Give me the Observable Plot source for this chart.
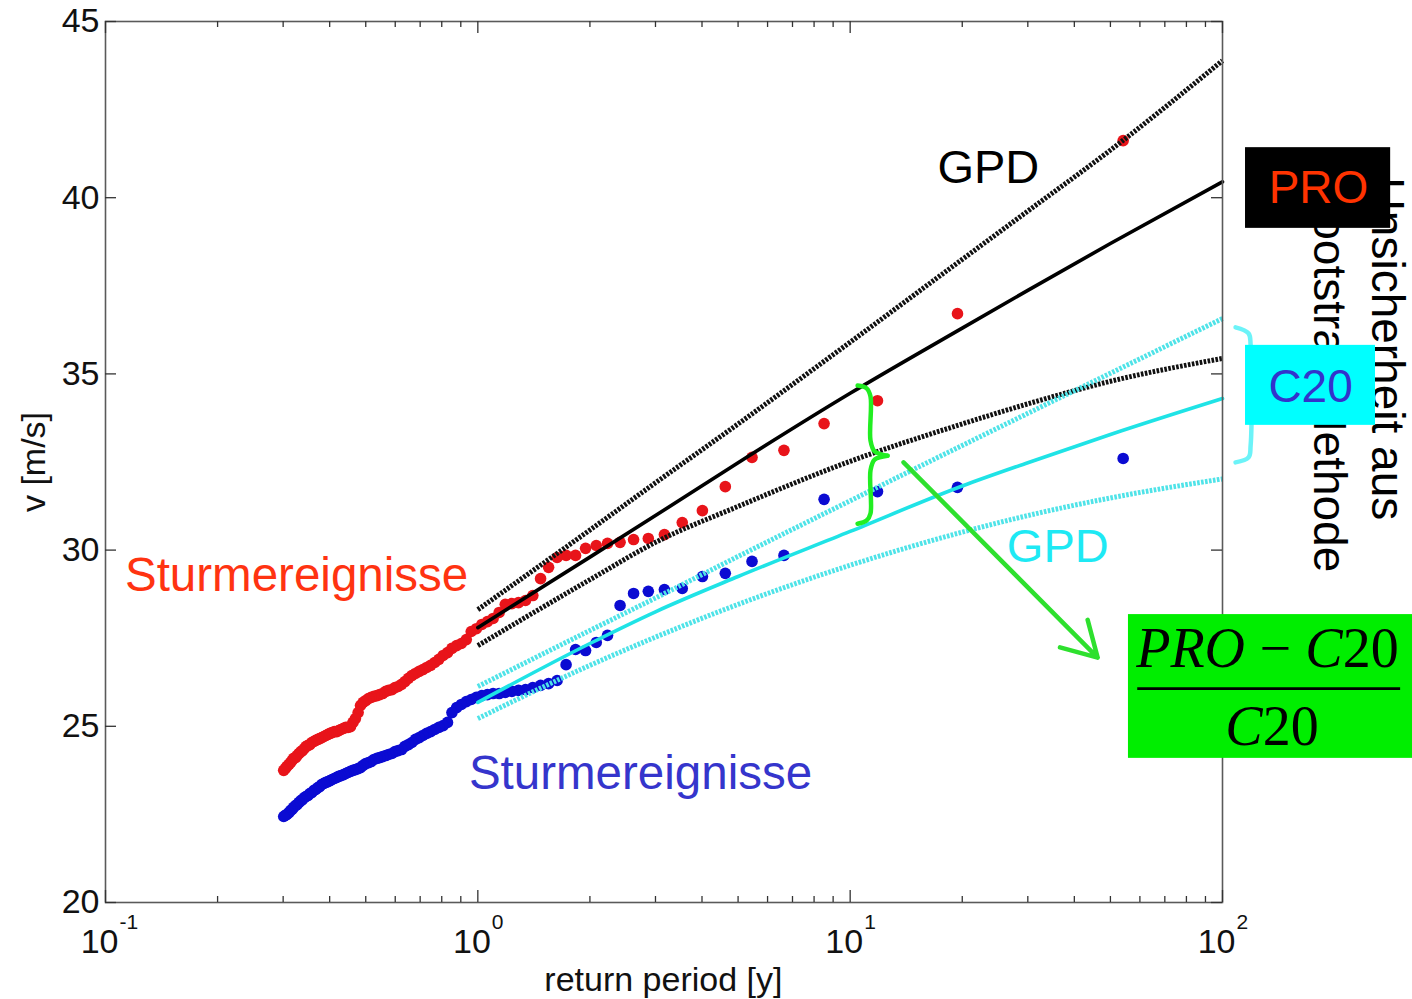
<!DOCTYPE html>
<html><head><meta charset="utf-8">
<script src="https://cdn.jsdelivr.net/npm/d3@7"></script>
<script src="https://cdn.jsdelivr.net/npm/@observablehq/plot@0.6"></script>
<style>html,body{margin:0;padding:0;background:#fff;} svg{display:block}</style>
</head><body><div id="chart"></div>
<script>
// ---- storm events: return period [y] (plotting positions) ----
const returnPeriod = [54.1, 19.42, 11.84, 8.51, 6.64, 5.45, 4.62, 4.01, 3.54, 3.17,
  2.87, 2.62, 2.41, 2.23, 2.08, 1.947, 1.830, 1.726, 1.633, 1.549,
  1.474, 1.405, 1.343, 1.286, 1.234, 1.185, 1.141, 1.099, 1.061, 1.025,
  0.991, 0.960, 0.931, 0.903, 0.877, 0.852, 0.829, 0.807, 0.786, 0.766,
  0.747, 0.729, 0.712, 0.696, 0.680, 0.665, 0.651, 0.637, 0.624, 0.611,
  0.599, 0.588, 0.576, 0.566, 0.555, 0.545, 0.536, 0.526, 0.517, 0.509,
  0.500, 0.492, 0.484, 0.477, 0.469, 0.462, 0.455, 0.448, 0.442, 0.436,
  0.429, 0.423, 0.418, 0.412, 0.406, 0.401, 0.396, 0.391, 0.386, 0.381,
  0.376, 0.372, 0.367, 0.363, 0.358, 0.354, 0.350, 0.346, 0.342, 0.338,
  0.335, 0.331, 0.327, 0.324, 0.320, 0.317, 0.314, 0.311, 0.307, 0.304,
  0.301];
// wind speed v [m/s], PRO storm events (red)
const vPRO = [41.62, 36.71, 34.24, 33.59, 32.83, 32.63, 31.80, 31.12, 30.78, 30.44,
  30.33, 30.30, 30.22, 30.19, 30.13, 30.05, 29.85, 29.85, 29.79, 29.51,
  29.19, 28.71, 28.57, 28.51, 28.48, 28.46, 28.23, 28.06, 27.97, 27.89,
  27.77, 27.69, 27.46, 27.35, 27.29, 27.21, 27.09, 27.01, 26.90, 26.81,
  26.73, 26.67, 26.61, 26.56, 26.50, 26.44, 26.36, 26.27, 26.19, 26.13,
  26.10, 26.04, 26.02, 25.99, 25.93, 25.90, 25.87, 25.85, 25.82, 25.79,
  25.73, 25.68, 25.59, 25.39, 25.22, 25.11, 24.99, 24.97, 24.97, 24.94,
  24.91, 24.88, 24.85, 24.85, 24.82, 24.80, 24.77, 24.74, 24.71, 24.68,
  24.65, 24.63, 24.60, 24.57, 24.54, 24.48, 24.46, 24.43, 24.37, 24.31,
  24.28, 24.23, 24.17, 24.11, 24.09, 24.03, 23.97, 23.92, 23.86, 23.80, 23.75];
// wind speed v [m/s], C20 storm events (blue)
const vC20 = [32.60, 31.78, 31.66, 31.44, 29.85, 29.68, 29.34, 29.25, 28.91, 28.88,
  28.83, 28.77, 28.43, 27.58, 27.38, 27.15, 27.18, 26.75, 26.30, 26.21,
  26.16, 26.10, 26.04, 26.02, 25.99, 25.96, 25.93, 25.93, 25.90, 25.87,
  25.82, 25.76, 25.70, 25.62, 25.53, 25.39, 25.11, 25.02, 24.97, 24.91,
  24.85, 24.80, 24.74, 24.68, 24.63, 24.54, 24.48, 24.43, 24.34, 24.31,
  24.28, 24.23, 24.20, 24.17, 24.14, 24.11, 24.09, 24.06, 24.00, 23.97,
  23.94, 23.89, 23.83, 23.80, 23.77, 23.75, 23.72, 23.69, 23.66, 23.63,
  23.60, 23.58, 23.55, 23.52, 23.49, 23.46, 23.43, 23.41, 23.38, 23.35,
  23.29, 23.26, 23.21, 23.18, 23.12, 23.09, 23.04, 23.01, 22.98, 22.92,
  22.89, 22.84, 22.78, 22.75, 22.70, 22.64, 22.61, 22.55, 22.50, 22.47, 22.44];

// ---- GPD fits with bootstrap uncertainty ----
const fitT     = [1, 2, 3, 5, 10, 20, 30, 50, 100];
const gpdPRO   = [27.80, 29.80, 30.98, 32.48, 34.45, 36.30, 37.37, 38.70, 40.45];
const gpdPROhi = [28.31, 30.57, 31.91, 33.58, 35.90, 38.25, 39.62, 41.35, 43.89];
const gpdPROlo = [27.29, 29.16, 30.22, 31.24, 32.52, 33.58, 34.15, 34.79, 35.44];
const gpdC20   = [25.68, 27.35, 28.25, 29.25, 30.53, 31.82, 32.48, 33.28, 34.30];
const gpdC20hi = [26.13, 27.72, 28.64, 29.82, 31.40, 32.97, 33.88, 35.02, 36.57];
const gpdC20lo = [25.22, 26.73, 27.53, 28.46, 29.57, 30.51, 30.98, 31.48, 32.02];

// ---- axes ----
const xMajor = [0.1, 1, 10, 100];
const xExponent = ["-1", "0", "1", "2"];
const xMinor = [0.2,0.3,0.4,0.5,0.6,0.7,0.8,0.9, 2,3,4,5,6,7,8,9, 20,30,40,50,60,70,80,90];
const yTicks = [20, 25, 30, 35, 40, 45];
const xTitle = "return period [y]";
const yTitle = "v [m/s]";

// ---- annotations (data coordinates) ----
const labelGPDblack = [{t: 23.5, v: 40.83, s: "GPD"}];
const labelGPDcyan  = [{t: 36.1, v: 30.1, s: "GPD"}];
const labelStormRed  = [{t: 0.326, v: 29.28, s: "Sturmereignisse"}];
const labelStormBlue = [{t: 2.735, v: 23.66, s: "Sturmereignisse"}];
const rotatedNote = [{t: 276, v: 40.57, s: "Unsicherheit aus"}, {t: 193, v: 40.40, s: "Bootstrap Methode"}];
const boxPRO = [{t1: 115.3, t2: 282.9, v1: 39.13, v2: 41.42}];
const textPRO = [{t: 181.1, v: 40.26, s: "PRO"}];
const boxC20 = [{t1: 115.3, t2: 257.6, v1: 33.54, v2: 35.81}];
const textC20 = [{t: 172.4, v: 34.61, s: "C20"}];
const boxRatio = [{t1: 55.9, t2: 400, v1: 24.09, v2: 28.17}];
const ratioBar = [{t1: 59.2, t2: 300.9, v: 26.07}];
const ratioNum = [{t: 210.2, v: 26.67}];
const ratioDen = [{t: 128.2, v: 24.46}];
const braceGreen = [
  {t: 10.47, v: 34.67, p: 0}, {t: 11.07, v: 34.59, p: 0}, {t: 11.34, v: 34.36, p: 0}, {t: 11.34, v: 33.11, p: 0}, {t: 11.63, v: 32.80, p: 0}, {t: 12.6, v: 32.68, p: 0},
  {t: 12.6, v: 32.68, p: 1}, {t: 11.63, v: 32.57, p: 1}, {t: 11.34, v: 32.26, p: 1}, {t: 11.34, v: 31.04, p: 1}, {t: 11.07, v: 30.84, p: 1}, {t: 10.47, v: 30.75, p: 1}];
const arrowGreen = [{t1: 13.91, v1: 32.49, t2: 46.2, v2: 26.95}];
const bracketCyan = [{t: 108.4, v: 36.32}, {t: 117.5, v: 36.15}, {t: 119, v: 35.81}, {t: 119, v: 32.97}, {t: 117.5, v: 32.63}, {t: 108.4, v: 32.49}];

const W = 1412, H = 999, mL = 105, mR = 190, mT = 21, mB = 97;
const fw = W - mL - mR, fh = H - mT - mB;

const events = returnPeriod.map((t, i) => ({t, pro: vPRO[i], c20: vC20[i]}));
const fits = fitT.map((t, i) => ({t, pro: gpdPRO[i], proHi: gpdPROhi[i], proLo: gpdPROlo[i], c20: gpdC20[i], c20Hi: gpdC20hi[i], c20Lo: gpdC20lo[i]}));
const majors = xMajor.map((t, i) => ({t, e: xExponent[i]}));

const RED = "#e8141a", BLUE = "#0b0bd2", CYAN = "#1fe3e6", CYANDOT = "#4fe3e8";
const dotted = {strokeWidth: 5, strokeDasharray: "2.6 1.4", strokeLinecap: "butt", curve: "monotone-x"};
const axisFont = {fontSize: 34, fill: "#111"};

const plot = Plot.plot({
  width: W, height: H,
  marginLeft: mL, marginRight: mR, marginTop: mT, marginBottom: mB,
  x: {type: "log", domain: [0.1, 100], axis: null},
  y: {domain: [20, 45], axis: null},
  style: {fontFamily: "'Liberation Sans', Arial, sans-serif", background: "#fff", overflow: "visible"},
  marks: [
    // data points
    Plot.dot(events, {x: "t", y: "pro", r: 5.8, fill: RED, stroke: "none"}),
    Plot.dot(events, {x: "t", y: "c20", r: 5.8, fill: BLUE, stroke: "none"}),
    // fits
    Plot.line(fits, {x: "t", y: "proHi", stroke: "#111", ...dotted}),
    Plot.line(fits, {x: "t", y: "proLo", stroke: "#111", ...dotted}),
    Plot.line(fits, {x: "t", y: "pro", stroke: "#000", strokeWidth: 3.6, curve: "monotone-x"}),
    Plot.line(fits, {x: "t", y: "c20Hi", stroke: CYANDOT, ...dotted}),
    Plot.line(fits, {x: "t", y: "c20Lo", stroke: CYANDOT, ...dotted}),
    Plot.line(fits, {x: "t", y: "c20", stroke: CYAN, strokeWidth: 3.6, curve: "monotone-x"}),
    // frame & ticks
    Plot.frame({stroke: "#5a5a5a", strokeWidth: 1.6}),
    Plot.tickX(xMajor, {x: d => d, insetTop: fh - 12, stroke: "#333", strokeWidth: 1.3}),
    Plot.tickX(xMajor, {x: d => d, insetBottom: fh - 12, stroke: "#333", strokeWidth: 1.3}),
    Plot.tickX(xMinor, {x: d => d, insetTop: fh - 6, stroke: "#333", strokeWidth: 1.3}),
    Plot.tickX(xMinor, {x: d => d, insetBottom: fh - 6, stroke: "#333", strokeWidth: 1.3}),
    Plot.tickY(yTicks, {y: d => d, insetRight: fw - 11, stroke: "#333", strokeWidth: 1.3}),
    Plot.tickY(yTicks, {y: d => d, insetLeft: fw - 11, stroke: "#333", strokeWidth: 1.3}),
    // tick labels
    Plot.text(yTicks, {x: 0.1, y: d => d, text: d => String(d), dx: -6, textAnchor: "end", ...axisFont}),
    Plot.text(majors, {x: "t", y: 20, text: () => "10", dx: 13, dy: 40, textAnchor: "end", ...axisFont}),
    Plot.text(majors, {x: "t", y: 20, text: "e", dx: 14, dy: 20, textAnchor: "start", fontSize: 21, fill: "#111"}),
    Plot.text([xTitle], {x: 3.15, y: 20, text: d => d, dy: 78, ...axisFont}),
    Plot.text([yTitle], {x: 0.1, y: 32.5, text: d => d, dx: -71, rotate: -90, ...axisFont}),
    // in-plot labels
    Plot.text(labelGPDblack, {x: "t", y: "v", text: "s", fontSize: 47, fill: "#000"}),
    Plot.text(labelGPDcyan, {x: "t", y: "v", text: "s", fontSize: 47, fill: "#1ee9f4"}),
    Plot.text(labelStormRed, {x: "t", y: "v", text: "s", fontSize: 47.5, fill: "#ff3311"}),
    Plot.text(labelStormBlue, {x: "t", y: "v", text: "s", fontSize: 47.5, fill: "#3535cc"}),
    // bracket and arrow
    Plot.line(braceGreen, {x: "t", y: "v", z: "p", stroke: "#22ee22", strokeWidth: 4.5, curve: "catmull-rom"}),
    Plot.arrow(arrowGreen, {x1: "t1", y1: "v1", x2: "t2", y2: "v2", stroke: "#2ee02e", strokeWidth: 4.5, headLength: 13, headAngle: 60}),
    Plot.line(bracketCyan, {x: "t", y: "v", stroke: "#6cf3f8", strokeWidth: 4.5, curve: "catmull-rom"}),
    // right-side annotation
    Plot.text(rotatedNote, {x: "t", y: "v", text: "s", rotate: 90, textAnchor: "start", fontSize: 46, fill: "#000"}),
    Plot.rect(boxPRO, {x1: "t1", x2: "t2", y1: "v1", y2: "v2", fill: "#000"}),
    Plot.text(textPRO, {x: "t", y: "v", text: "s", fontSize: 46, fill: "#ff3300"}),
    Plot.rect(boxC20, {x1: "t1", x2: "t2", y1: "v1", y2: "v2", fill: "#00ffff"}),
    Plot.text(textC20, {x: "t", y: "v", text: "s", fontSize: 46, fill: "#3333cc"}),
    Plot.rect(boxRatio, {x1: "t1", x2: "t2", y1: "v1", y2: "v2", fill: "#00ee00"}),
    Plot.ruleY(ratioBar, {x1: "t1", x2: "t2", y: "v", stroke: "#000", strokeWidth: 2.6}),
    Plot.text(ratioNum, {x: "t", y: "v", text: () => "PRO\u2009\u2212\u2009C", textAnchor: "end", lineAnchor: "bottom", fontSize: 56, fontStyle: "italic", fontFamily: "'Liberation Serif', 'Times New Roman', serif", fill: "#000"}),
    Plot.text(ratioNum, {x: "t", y: "v", text: () => "20", textAnchor: "start", lineAnchor: "bottom", fontSize: 56, fontFamily: "'Liberation Serif', 'Times New Roman', serif", fill: "#000"}),
    Plot.text(ratioDen, {x: "t", y: "v", text: () => "C", textAnchor: "end", lineAnchor: "bottom", fontSize: 56, fontStyle: "italic", fontFamily: "'Liberation Serif', 'Times New Roman', serif", fill: "#000"}),
    Plot.text(ratioDen, {x: "t", y: "v", text: () => "20", textAnchor: "start", lineAnchor: "bottom", fontSize: 56, fontFamily: "'Liberation Serif', 'Times New Roman', serif", fill: "#000"})
  ]
});
document.getElementById("chart").append(plot);
</script>
</body></html>
